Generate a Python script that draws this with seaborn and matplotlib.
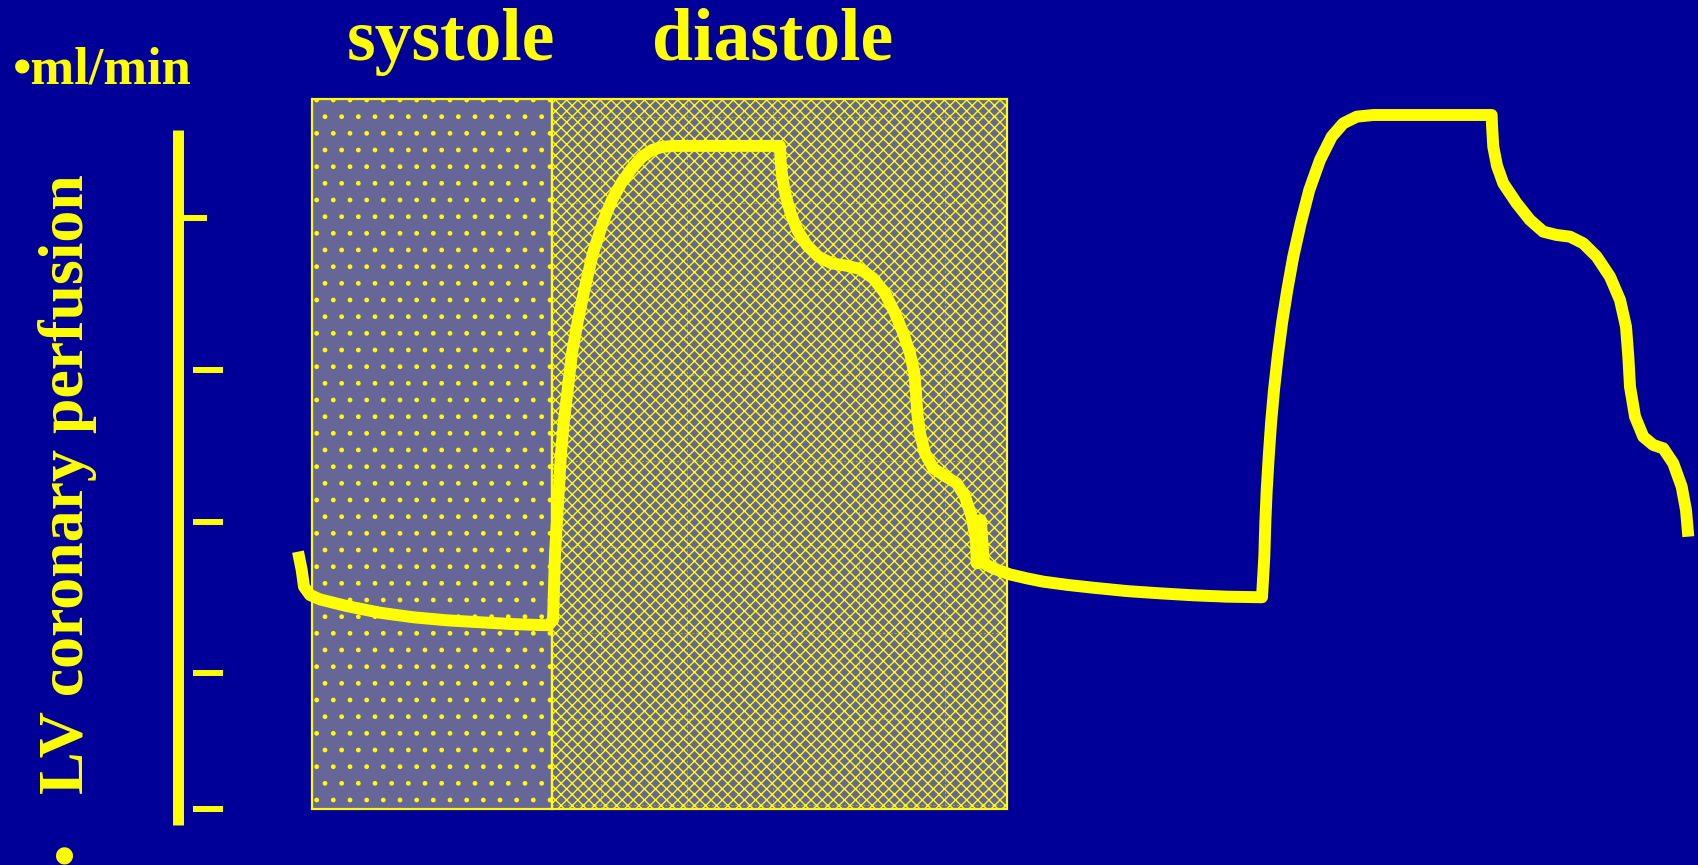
import numpy as np
import pandas as pd
import matplotlib
matplotlib.use("Agg")
import matplotlib.pyplot as plt
import seaborn as sns
from matplotlib.patches import Rectangle

# Coronary flow trace over one and a half cardiac cycles
# time in ms from the onset of systole, flow in arbitrary units
time_ms = [
    # end of previous beat and systole
    -17.5, -12.9, -10.0, -2.5, 10.0, 43.4, 85.0, 126.6, 168.4, 210.0, 251.6, 295.4,
    # early diastolic upstroke
    301.3, 302.5, 303.8, 306.3, 308.8, 311.3, 315.0, 320.0, 325.0, 332.5, 341.3,
    351.3, 363.8, 375.0, 387.5, 400.0, 412.5, 425.0, 437.5, 451.3, 585.0,
    # diastolic decline
    585.9, 588.4, 592.5, 598.4, 606.6, 618.4, 632.9, 649.6, 668.4, 685.0, 701.6,
    716.3, 728.8, 739.1, 747.5, 752.9, 755.0, 756.6, 760.0, 766.3, 776.6, 791.3,
    805.9, 816.3, 824.6, 830.0, 830.9, 835.9, 840.0,
    # next systole
    851.6, 872.5, 893.4, 914.1, 945.4, 976.6, 1018.4, 1060.0, 1101.6, 1143.4, 1187.5,
    # next diastole
    1190.4, 1191.6, 1193.4, 1195.9, 1198.8, 1202.5, 1207.1, 1212.5, 1219.1, 1226.6,
    1235.9, 1246.6, 1260.0, 1274.6, 1289.1, 1305.9, 1326.6, 1474.6,
    1475.0, 1476.6, 1481.3, 1489.1, 1505.9, 1522.5, 1539.1, 1555.9, 1572.5, 1589.1,
    1605.9, 1622.5, 1635.0, 1642.5, 1645.4, 1647.5, 1653.8, 1664.1, 1676.6, 1689.1,
    1701.6, 1712.1, 1717.5, 1720.4,
]
flow = [
    1.801, 1.680, 1.570, 1.515, 1.486, 1.442, 1.398, 1.368, 1.348, 1.335, 1.323, 1.315,
    1.350, 1.568, 1.792, 2.010, 2.228, 2.452, 2.670, 2.888, 3.112, 3.330, 3.548,
    3.772, 3.977, 4.122, 4.241, 4.333, 4.406, 4.452, 4.472, 4.479, 4.479,
    4.364, 4.254, 4.144, 4.034, 3.924, 3.825, 3.748, 3.704, 3.688, 3.667, 3.605,
    3.506, 3.374, 3.242, 3.110, 2.978, 2.846, 2.714, 2.582, 2.450, 2.351, 2.300,
    2.252, 2.164, 2.032, 1.878, 1.724, 2.010, 1.724,
    1.691, 1.651, 1.625, 1.603, 1.581, 1.563, 1.541, 1.526, 1.513, 1.504, 1.500,
    1.768, 1.988, 2.208, 2.428, 2.648, 2.868, 3.088, 3.308, 3.528, 3.748,
    3.968, 4.188, 4.386, 4.540, 4.628, 4.672, 4.683, 4.683,
    4.617, 4.474, 4.347, 4.232, 4.100, 3.990, 3.913, 3.891, 3.880, 3.836,
    3.748, 3.616, 3.462, 3.286, 3.088, 2.890, 2.692, 2.560, 2.505, 2.483,
    2.384, 2.230, 2.076, 1.900,
]

# Cardiac phases (ms) and the flow range covered by the shaded panel
phase_labels = ["systole", "diastole"]
phase_start = [0, 300]
phase_end = [300, 869]
panel_flow = (0.1, 4.79)

# Flow scale drawn at the left
scale_flow = (0.0, 4.585)
tick_flow = [4, 3, 2, 1, 0.1]

unit_label = "\u2022ml/min"
axis_label = "LV coronary perfusion"

BG = "#000099"
YEL = "#FFFF00"
FACE = "#666699"
W, H = 1698, 865

sns.set_theme(style="white")
plt.rcParams["hatch.color"] = YEL
plt.rcParams["hatch.linewidth"] = 1.0

fig = plt.figure(figsize=(W / 100, H / 100), dpi=100, facecolor=BG)
ax = fig.add_axes([0, 0, 1, 1])
ax.set_facecolor(BG)
ax.set_xlim(-390, 1732.5)
ax.set_ylim(-0.267, 5.442)
ax.axis("off")

# Shaded phase panels
hatches = [".", "xxx"]
for start, end, hatch in zip(phase_start, phase_end, hatches):
    ax.add_patch(Rectangle((start, panel_flow[0]), end - start,
                           panel_flow[1] - panel_flow[0],
                           facecolor=FACE, edgecolor=YEL, hatch=hatch,
                           linewidth=1.6, zorder=1))

# Faint tile seams inside the diastolic panel
for gx in np.arange(361.25, phase_end[1], 107.5):
    ax.plot([gx, gx], list(panel_flow), color=YEL, lw=0.7, alpha=0.45,
            ls=(0, (2, 2)), zorder=1.5)
for gy in np.arange(4.67, panel_flow[0], -0.5677):
    ax.plot([phase_start[1], phase_end[1]], [gy, gy], color=YEL, lw=0.7,
            alpha=0.45, ls=(0, (2, 2)), zorder=1.5)

# Flow trace
trace = pd.DataFrame({"time": time_ms, "flow": flow})
sns.lineplot(data=trace, x="time", y="flow", sort=False, estimator=None,
             color=YEL, linewidth=8.6, solid_capstyle="butt",
             solid_joinstyle="round", ax=ax, zorder=3)
ax.set_xlabel("")
ax.set_ylabel("")

# Flow scale bar and ticks
scale_x = -168
ax.plot([scale_x, scale_x], list(scale_flow), color=YEL, lw=7.9,
        solid_capstyle="butt", zorder=3)
for v in tick_flow:
    x0, x1 = (scale_x, -131) if v == max(tick_flow) else (-149, -111)
    ax.plot([x0, x1], [v, v], color=YEL, lw=4.3, solid_capstyle="butt", zorder=3)

# Text
serif = dict(family="Liberation Serif", weight="bold", color=YEL)
fig.text(13 / W, 1 - 83 / H, unit_label, fontsize=37.8, ha="left",
         va="baseline", **serif)
fig.text(347 / W, 1 - 60 / H, phase_labels[0], fontsize=53, ha="left",
         va="baseline", **serif)
fig.text(652 / W, 1 - 60 / H, phase_labels[1], fontsize=53, ha="left",
         va="baseline", **serif)
fig.text(83 / W, 1 - 794 / H, axis_label, fontsize=46, rotation=90,
         rotation_mode="anchor", ha="left", va="baseline", **serif)
fig.text(83 / W, 1 - 864 / H, "\u2022", fontsize=46, rotation=90,
         rotation_mode="anchor", ha="left", va="baseline", **serif)

fig.savefig("out.png", dpi=100, facecolor=BG)
